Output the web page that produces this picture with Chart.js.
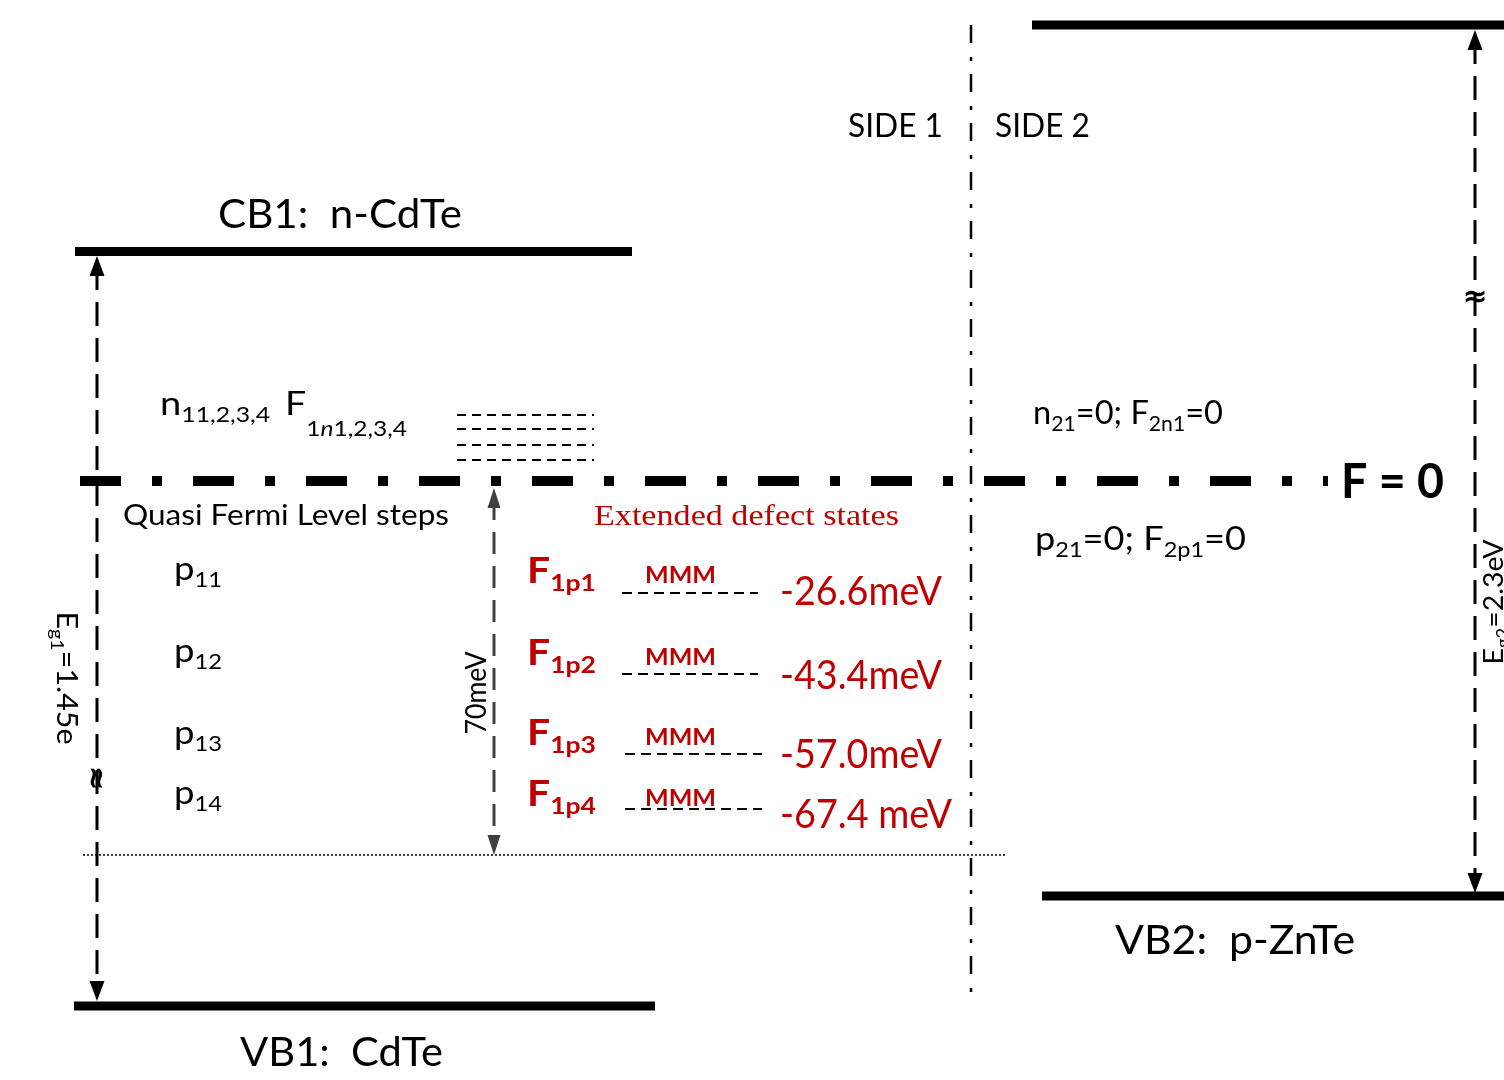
<!DOCTYPE html>
<html>
<head>
<meta charset="utf-8">
<script src="https://cdn.jsdelivr.net/npm/chart.js@4.4.0/dist/chart.umd.min.js"></script>
<style>
  html, body { margin: 0; padding: 0; background: #fff; }
  #diagram { display: block; }
</style>
</head>
<body>
<canvas id="diagram" width="1504" height="1080"></canvas>
<script>
// band diagram in drawing units (x across the junction, y downwards)
const bandNames = ['CB1', 'VB1', 'CB2', 'VB2'];
const bandRow = [251.5, 1006, 25, 896];
const bandFrom = [75, 74, 1032, 1042];
const bandTo = [632, 655, 1504, 1504];

const fermiRow = 481;
const fermiSpan = [80, 1328];
const interfaceX = 971;
const interfaceSpan = [25, 995];

const bandGaps = [1.45, 2.3]; // eV, side 1 / side 2
const gapArrowX = [97, 1475];
const gapArrowTop = [256, 30];
const gapArrowBottom = [1001, 893];

const electronStepRows = [415, 429, 445, 460];
const holeSteps = ['11', '12', '13', '14'];
const holeStepRows = [580, 662, 744, 804];

const defectNames = ['1p1', '1p2', '1p3', '1p4'];
const defectEnergies = ['-26.6meV', '-43.4meV', '-57.0meV', '-67.4 meV'];
const defectRows = [593, 674, 754, 809];
const defectLabelRows = [583, 665, 745, 806];
const defectValueRows = [605, 689, 768, 828];

const windowWidth = '70meV';
const windowTop = 488;
const windowBottom = 855;

const RED = '#c00000';
const SANS = 'Lato';

function seg(x1, y1, x2, y2, width, dash, color) {
  return {
    data: [{x: x1, y: y1}, {x: x2, y: y2}],
    showLine: true,
    borderColor: color || '#000',
    borderWidth: width,
    borderDash: dash || [],
    borderCapStyle: 'butt',
    pointRadius: 0,
    fill: false
  };
}

const datasets = [];
bandNames.forEach((n, i) => datasets.push(seg(bandFrom[i], bandRow[i], bandTo[i], bandRow[i], 9)));
datasets.push(seg(fermiSpan[0], fermiRow, fermiSpan[1], fermiRow, 10, [41, 31, 10, 31]));
datasets.push(seg(interfaceX, interfaceSpan[0], interfaceX, interfaceSpan[1], 2.5, [18, 14, 4, 13]));
gapArrowX.forEach((x, i) => datasets.push(seg(x, gapArrowTop[i] + 10, x, gapArrowBottom[i] - 10, 3, [24, 12])));
datasets.push(seg(494, windowTop + 10, 494, windowBottom - 10, 3, [22, 12], '#404040'));
datasets.push(seg(83, windowBottom, 1007, windowBottom, 1.5, [2, 2]));
electronStepRows.forEach(r => datasets.push(seg(457, r, 594, r, 2, [9, 6])));
defectRows.forEach((r, i) => datasets.push(seg(i < 2 ? 622 : 625, r, i < 2 ? 758 : 762, r, 2, [10, 6])));

// text notes (layout only)
const notes = [
  {t: 'CB1:  n-CdTe', x: 218, y: 228, size: 40, w: 244},
  {t: 'VB1:  CdTe', x: 240, y: 1066, size: 40, w: 203},
  {t: 'VB2:  p-ZnTe', x: 1115, y: 954, size: 40, w: 240},
  {t: 'SIDE 1', x: 848, y: 137, size: 32, w: 95},
  {t: 'SIDE 2', x: 995, y: 137, size: 32, w: 95},
  {t: [{t: 'n'}, {t: '11,2,3,4', sub: 1}], x: 160, y: 415, size: 32, w: 110},
  {t: [{t: 'F'}, {t: '1', sub: 1, dy: 21}, {t: 'n', sub: 1, dy: 21, italic: 1}, {t: '1,2,3,4', sub: 1, dy: 21}], x: 285, y: 415, size: 32, w: 122},
  {t: 'Quasi Fermi Level steps', x: 123, y: 525, size: 29, w: 326},
  {t: 'Extended defect states', x: 594, y: 525, size: 30, w: 305, family: 'Liberation Serif', color: RED},
  {t: [{t: 'n'}, {t: '21', sub: 1}, {t: '=0; F'}, {t: '2n1', sub: 1}, {t: '=0'}], x: 1033, y: 424, size: 32, w: 190},
  {t: [{t: 'p'}, {t: '21', sub: 1}, {t: '=0; F'}, {t: '2p1', sub: 1}, {t: '=0'}], x: 1035, y: 550, size: 32, w: 211},
  {t: 'F = 0', x: 1341, y: 498, size: 48, w: 103, weight: 'bold'},
  {t: windowWidth, x: 476, y: 693, size: 28, w: 83, rot: -Math.PI / 2},
  {t: [{t: 'E'}, {t: 'g1', sub: 1}, {t: '=' + bandGaps[0].toFixed(2) + 'e'}], x: 67, y: 678, size: 28, w: 133, rot: Math.PI / 2},
  {t: [{t: 'E'}, {t: 'g2', sub: 1}, {t: '=' + bandGaps[1] + 'eV'}], x: 1494, y: 602, size: 26, w: 125, rot: -Math.PI / 2},
  {t: '\u2248', x: 97, y: 778, size: 30, family: 'DejaVu Sans', weight: 'bold', rot: Math.PI / 2},
  {t: '\u2248', x: 1475, y: 295, size: 30, family: 'DejaVu Sans', weight: 'bold', rot: 0}
];
holeSteps.forEach((s, i) => notes.push({t: [{t: 'p'}, {t: s, sub: 1}], x: 174, y: holeStepRows[i], size: 32, w: 48}));
defectNames.forEach((s, i) => {
  notes.push({t: [{t: 'F'}, {t: s, sub: 1}], x: 527, y: defectLabelRows[i], size: 36, w: 69, weight: 'bold', color: RED});
  notes.push({t: 'MMM', x: 645, y: defectLabelRows[i], size: 22, w: 71, weight: 'bold', color: RED});
  notes.push({t: defectEnergies[i], x: 780, y: defectValueRows[i], size: 40, w: i === 3 ? 172 : 162, color: RED});
});

function drawNote(c, n, px, py) {
  const runs = typeof n.t === 'string' ? [{t: n.t}] : n.t;
  const fam = n.family || SANS;
  const wt = n.weight || 'normal';
  const fontFor = r => (r.italic ? 'italic ' : '') + wt + ' ' + (r.sub ? n.size * 0.65 : n.size) + 'px "' + fam + '"';
  let total = 0;
  runs.forEach(r => { c.font = fontFor(r); total += c.measureText(r.t).width; });
  const sx = n.w ? n.w / total : 1;
  const rotated = n.rot != null;
  c.save();
  c.fillStyle = n.color || '#000';
  c.textAlign = 'left';
  c.textBaseline = 'alphabetic';
  c.translate(px, py);
  if (rotated) c.rotate(n.rot);
  c.scale(sx, 1);
  let cx = rotated ? -total / 2 : 0;
  const by = rotated ? n.size * 0.35 : 0;
  runs.forEach(r => {
    c.font = fontFor(r);
    const dy = r.sub ? (r.dy != null ? r.dy : n.size * 0.22) : 0;
    c.fillText(r.t, cx, by + dy);
    cx += c.measureText(r.t).width;
  });
  c.restore();
}

function arrowHead(c, x, y, dir, w, len, color) {
  c.beginPath();
  c.moveTo(x, y);
  c.lineTo(x - w / 2, y + dir * len);
  c.lineTo(x + w / 2, y + dir * len);
  c.closePath();
  c.fillStyle = color;
  c.fill();
}

const decor = {
  id: 'decor',
  afterDatasetsDraw(chart) {
    const c = chart.ctx;
    const xs = chart.scales.x, ys = chart.scales.y;
    gapArrowX.forEach((x, i) => {
      const px = xs.getPixelForValue(x);
      arrowHead(c, px, ys.getPixelForValue(gapArrowTop[i]), 1, 15, 20, '#000');
      arrowHead(c, px, ys.getPixelForValue(gapArrowBottom[i]), -1, 15, 20, '#000');
    });
    const wx = xs.getPixelForValue(494);
    arrowHead(c, wx, ys.getPixelForValue(windowTop), 1, 13, 20, '#404040');
    arrowHead(c, wx, ys.getPixelForValue(windowBottom), -1, 13, 20, '#404040');
    notes.forEach(n => drawNote(c, n, xs.getPixelForValue(n.x), ys.getPixelForValue(n.y)));
  }
};

new Chart(document.getElementById('diagram'), {
  type: 'scatter',
  data: { datasets: datasets },
  options: {
    responsive: false,
    animation: false,
    layout: { padding: 0 },
    plugins: { legend: { display: false }, tooltip: { enabled: false } },
    scales: {
      x: { type: 'linear', min: 0, max: 1504, display: false },
      y: { type: 'linear', min: 0, max: 1080, reverse: true, display: false }
    }
  },
  plugins: [decor]
});
</script>
</body>
</html>
